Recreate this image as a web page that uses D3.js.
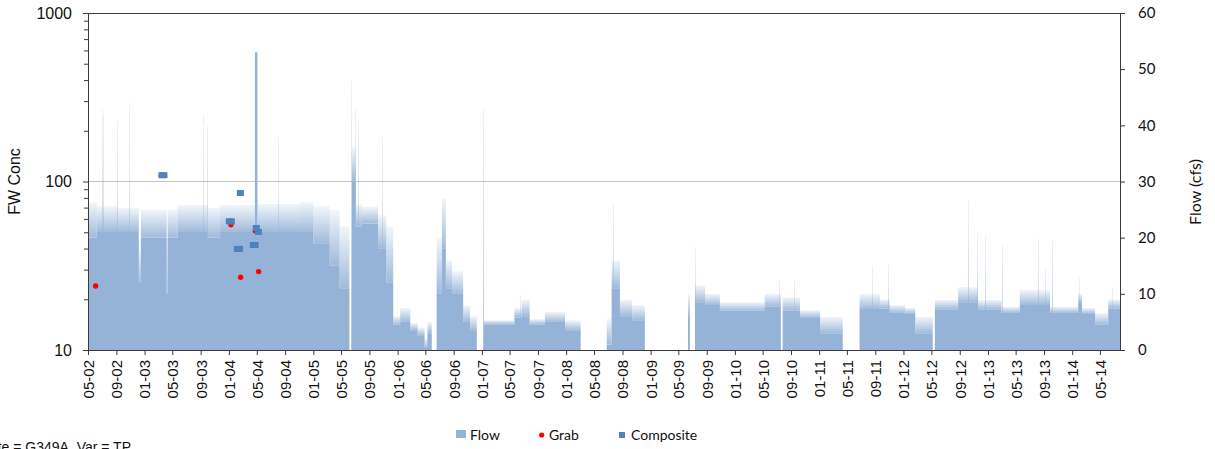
<!DOCTYPE html>
<html><head><meta charset="utf-8">
<script src="https://cdn.jsdelivr.net/npm/d3@7"></script>
<style>body{margin:0;background:#fff} svg{display:block}</style>
</head><body><svg id="c" width="1215" height="449"></svg>
<script>
// ---------------- data ----------------
const xTickLabels = ["05-02","09-02","01-03","05-03","09-03","01-04","05-04","09-04","01-05","05-05","09-05","01-06","05-06","09-06","01-07","05-07","09-07","01-08","05-08","09-08","01-09","05-09","09-09","01-10","05-10","09-10","01-11","05-11","09-11","01-12","05-12","09-12","01-13","05-13","09-13","01-14","05-14"];
const concTicks = [10, 100, 1000];
const concMinorTicks = [20,30,40,50,60,70,80,90,200,300,400,500,600,700,800,900];
const flowTicks = [0, 10, 20, 30, 40, 50, 60];

// Flow (cfs): dense level and fuzzy top level, step segments starting at each date
const flowDates = ["2002-05-01","2002-06-08","2002-09-08","2002-12-07","2002-12-16","2003-04-07","2003-04-11","2003-05-24","2003-10-02","2003-11-24","2004-04-23","2004-05-04","2004-11-04","2005-01-01","2005-03-13","2005-04-25","2005-06-06","2005-06-17","2005-07-04","2005-07-30","2005-10-08","2005-11-13","2005-12-13","2006-01-12","2006-02-25","2006-03-29","2006-04-28","2006-05-10","2006-05-29","2006-06-19","2006-07-12","2006-07-29","2006-08-25","2006-10-12","2006-11-11","2006-12-10","2007-01-09","2007-05-22","2007-06-22","2007-07-27","2007-10-01","2007-12-27","2008-03-04","2008-06-25","2008-07-16","2008-08-21","2008-10-13","2008-12-07","2009-06-12","2009-06-20","2009-07-12","2009-08-25","2009-10-28","2010-05-10","2010-07-19","2010-07-27","2010-10-10","2011-01-05","2011-04-13","2011-06-25","2011-09-21","2011-11-03","2012-01-09","2012-02-21","2012-05-07","2012-05-16","2012-08-25","2012-11-19","2013-03-01","2013-05-19","2013-09-27","2014-01-27","2014-02-12","2014-04-10","2014-06-06","2014-07-27"];
const flowBase  = [20,21,21,12,20,10,20,21,20,21,53,21,21,19,15,11,0,30,22,22.5,18,12,4.5,5,3.5,2.5,0.5,3,0,10,18,11,10,5,3.5,0,4.5,5.8,6,4.5,5,3.5,0,1,11,6,5.3,0,6,0,8.5,8,7,7.7,0,7,5.7,3,0,7.3,7.4,6.6,6.4,3,0,7.2,8.5,7.2,6.6,8,6.6,8.5,6.4,4.5,7.4,7.4];
const flowTop   = [26.3,25.6,25.3,18,25,20,25,25.8,25.3,25.8,53,26,26.3,25.6,24.9,22,0,36,26,25.5,24,22,6,7.5,4.8,4,2,5,0,20,27,16,14,8,6,0,5.3,7.5,9,5.5,6.8,5.3,0,5.5,16,9,8,0,10,0,11.5,10,8.5,10,0,9.4,7.1,5.9,0,10,9,8,7.5,5.9,0,8.9,11.2,8.9,7.7,10.7,7.7,10,7.5,6.6,9,9];

// Short flow peaks (cfs)
const spikeDates  = ["2002-06-30","2002-07-07","2002-09-03","2002-10-25","2003-09-10","2003-09-27","2004-07-31","2005-06-14","2005-06-30","2005-07-13","2005-10-25","2007-01-06","2007-06-15","2008-07-20","2009-07-12","2010-07-10","2010-09-12","2011-08-17","2011-10-28","2012-10-06","2012-11-14","2012-12-18","2013-03-01","2013-08-04","2013-09-06","2013-10-07","2014-01-31","2014-06-21"];
const spikeValues = [43,42,41,44,42,40,38,48,43,41,38,43,9.8,26,18.4,12.5,12.5,14.8,15.4,26.7,20.8,20.5,18.7,19.9,14.5,19.6,13,11.2];

// FW concentration samples
const grabDates  = ["2002-06-03","2003-03-24","2004-01-10","2004-02-21","2004-04-25","2004-05-09"];
const grabValues = [24.0,109,55.3,27.0,51,29.2];
const compDates  = ["2003-03-17","2003-03-26","2004-01-03","2004-01-12","2004-02-07","2004-02-16","2004-02-20","2004-04-16","2004-04-24","2004-04-29","2004-05-08"];
const compValues = [109,109,58,58,39.8,39.8,85.5,42,42,53,50.2];

// ---------------- chart ----------------
const svg = d3.select("#c");
const L = 88, R = 1120, T = 13, B = 350;
const parse = d3.utcParse("%Y-%m-%d");
const parseTick = d3.utcParse("%m-%y");
const x = d3.scaleUtc().domain([parse("2002-05-01"), parse("2014-07-27")]).range([L, R]);
const yL = d3.scaleLog().domain([10, 1000]).range([B, T]);
const yR = d3.scaleLinear().domain([0, 60]).range([B, T]);
const flowColor = "#95B3D7";
const axisColor = "#3a3a3a";

const defs = svg.append("defs");
const fade = defs.append("linearGradient").attr("id", "fade").attr("x1", 0).attr("x2", 0).attr("y1", 0).attr("y2", 1);
fade.append("stop").attr("offset", 0).attr("stop-color", flowColor).attr("stop-opacity", 0.12);
fade.append("stop").attr("offset", 1).attr("stop-color", flowColor).attr("stop-opacity", 0.9);
const fadeS = defs.append("linearGradient").attr("id", "fadeS").attr("x1", 0).attr("x2", 0).attr("y1", 0).attr("y2", 1);
fadeS.append("stop").attr("offset", 0).attr("stop-color", flowColor).attr("stop-opacity", 0.15);
fadeS.append("stop").attr("offset", 1).attr("stop-color", flowColor).attr("stop-opacity", 0.7);

// gridline at 100
svg.append("line").attr("x1", L).attr("x2", R)
  .attr("y1", Math.round(yL(100)) + 0.5).attr("y2", Math.round(yL(100)) + 0.5)
  .attr("stroke", "#c4c4c4").attr("stroke-width", 1);

// flow
const flow = flowDates.map((d, i) => ({d: parse(d), b: flowBase[i], t: flowTop[i]}));
const segs = flow.slice(0, -1).map((p, i) => ({x0: x(p.d), x1: x(flow[i + 1].d), b: p.b, t: p.t}))
  .filter(s => s.t > s.b);
svg.append("g").selectAll("rect").data(segs).join("rect")
  .attr("x", s => s.x0).attr("width", s => s.x1 - s.x0)
  .attr("y", s => yR(s.t)).attr("height", s => yR(s.b) - yR(s.t))
  .attr("fill", "url(#fade)");
svg.append("path").datum(flow)
  .attr("fill", flowColor)
  .attr("d", d3.area().curve(d3.curveStepAfter).x(p => x(p.d)).y0(yR(0)).y1(p => yR(p.b)));

svg.append("g").selectAll("rect").data(spikeDates.map((d, i) => ({d: parse(d), v: spikeValues[i]})))
  .join("rect")
  .attr("x", p => Math.round(x(p.d))).attr("width", 1)
  .attr("y", p => yR(p.v)).attr("height", p => yR(0) - yR(p.v))
  .attr("fill", "url(#fadeS)");

// top line (1000)
svg.append("line").attr("x1", L).attr("x2", R).attr("y1", T + 0.5).attr("y2", T + 0.5)
  .attr("stroke", axisColor).attr("stroke-width", 1);

// axes
function styleAxis(g) {
  g.select(".domain").attr("stroke", axisColor);
  g.selectAll(".tick line").attr("stroke", axisColor);
}
const gL = svg.append("g").attr("transform", `translate(${L},0)`)
  .call(d3.axisLeft(yL).tickValues(concTicks).tickFormat(d3.format("d")).tickSize(5).tickPadding(11));
styleAxis(gL);
gL.selectAll("text").attr("font-family", "'Liberation Sans', Arial, sans-serif").attr("font-size", 16).attr("fill", "#111");
const gLm = svg.append("g").attr("transform", `translate(${L},0)`)
  .call(d3.axisLeft(yL).tickValues(concMinorTicks).tickFormat("").tickSize(4).tickSizeOuter(0));
gLm.select(".domain").remove();
gLm.selectAll(".tick line").attr("stroke", axisColor);

const gR = svg.append("g").attr("transform", `translate(${R},0)`)
  .call(d3.axisRight(yR).tickValues(flowTicks).tickSize(5).tickPadding(13));
styleAxis(gR);
gR.selectAll("text").attr("font-family", "Lato, sans-serif").attr("font-size", 15).attr("fill", "#111");

const tickDates = xTickLabels.map(s => parseTick(s));
const gX = svg.append("g").attr("transform", `translate(0,${B})`)
  .call(d3.axisBottom(x).tickValues(tickDates).tickFormat(d3.utcFormat("%m-%y")).tickSize(5).tickSizeOuter(0));
styleAxis(gX);
gX.selectAll("text")
  .attr("font-family", "'Liberation Sans', Arial, sans-serif").attr("font-size", 15).attr("fill", "#111")
  .attr("transform", "translate(0,10) rotate(-90)")
  .attr("x", 0).attr("y", 0).attr("dy", "0.36em").attr("text-anchor", "end");

// axis titles
svg.append("text").attr("transform", `translate(20,${(T + B) / 2}) rotate(-90)`)
  .attr("text-anchor", "middle").attr("font-family", "'Liberation Sans', Arial, sans-serif")
  .attr("font-size", 16).attr("fill", "#111").text("FW Conc");
svg.append("text").attr("transform", `translate(1201,192) rotate(-90)`)
  .attr("text-anchor", "middle").attr("font-family", "Lato, sans-serif")
  .attr("font-size", 16).attr("fill", "#111").text("Flow (cfs)");

// samples
svg.append("g").selectAll("circle").data(grabDates.map((d, i) => ({d: parse(d), v: grabValues[i]})))
  .join("circle").attr("cx", p => x(p.d)).attr("cy", p => yL(p.v)).attr("r", 2.7).attr("fill", "#FF0000");
svg.append("g").selectAll("rect").data(compDates.map((d, i) => ({d: parse(d), v: compValues[i]})))
  .join("rect").attr("x", p => x(p.d) - 3.5).attr("y", p => yL(p.v) - 3).attr("width", 7).attr("height", 6)
  .attr("fill", "#4F81BD");

// legend
const lg = svg.append("g").attr("font-family", "Lato, sans-serif").attr("font-size", 14).attr("fill", "#111");
lg.append("rect").attr("x", 456).attr("y", 430).attr("width", 10).attr("height", 8).attr("fill", flowColor);
lg.append("text").attr("x", 470).attr("y", 440).text("Flow");
lg.append("circle").attr("cx", 541.7).attr("cy", 435).attr("r", 2.6).attr("fill", "#FF0000");
lg.append("text").attr("x", 549).attr("y", 440).text("Grab");
lg.append("rect").attr("x", 619).attr("y", 432).attr("width", 6).attr("height", 6).attr("fill", "#4F81BD");
lg.append("text").attr("x", 631).attr("y", 440).text("Composite");

// footnote (clipped at left/bottom as in the original)
svg.append("text").attr("x", 131).attr("y", 452).attr("text-anchor", "end")
  .attr("font-family", "'Liberation Sans', Arial, sans-serif").attr("font-size", 14).attr("fill", "#111")
  .text("Site = G349A, Var = TP");
</script>
</body></html>
